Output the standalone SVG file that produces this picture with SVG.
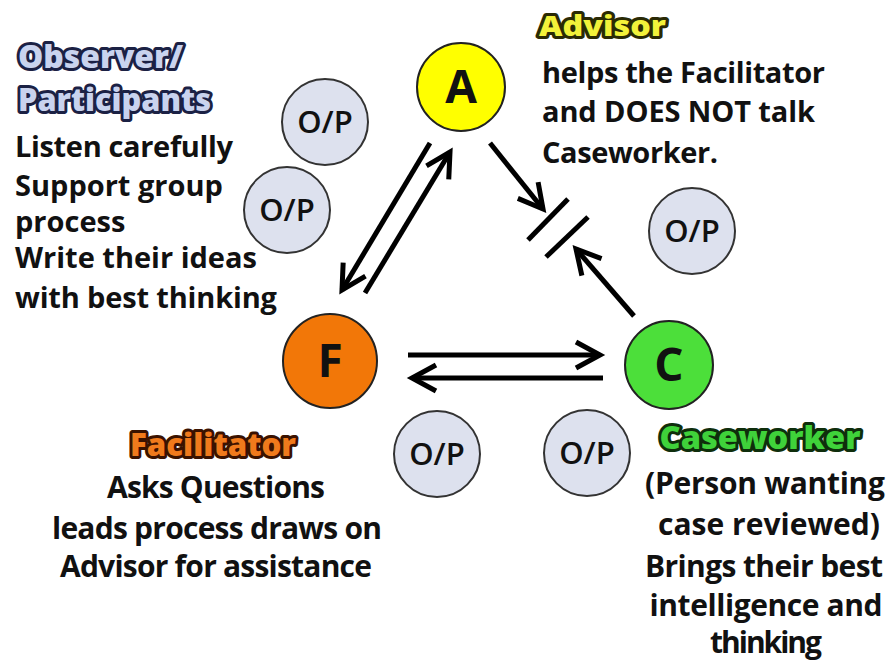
<svg xmlns="http://www.w3.org/2000/svg" width="889" height="664" viewBox="0 0 889 664">
<style>
.body{font-family:"Open Sans","Liberation Sans",sans-serif;font-weight:700;font-size:29px;fill:#111}
.big{font-size:30px}
.ttl{font-family:"Open Sans","Liberation Sans",sans-serif;font-weight:800;font-size:32px;stroke-width:6;stroke-linejoin:round;paint-order:stroke}
.op circle{fill:#dde1ee;stroke:#333;stroke-width:2}
.op text{font-family:"Open Sans","Liberation Sans",sans-serif;font-weight:600;font-size:31px;fill:#111;text-anchor:middle}
.node circle{stroke:#222;stroke-width:2}
.node text{font-family:"Open Sans","Liberation Sans",sans-serif;font-weight:700;font-size:46px;fill:#111;text-anchor:middle}
.ln{stroke:#000;stroke-width:5;fill:none}
</style>
<defs>
<marker id="ah" markerUnits="userSpaceOnUse" orient="auto" overflow="visible" refX="0" refY="0" markerWidth="30" markerHeight="30">
<path d="M-24,-13 L0,0 L-24,13" fill="none" stroke="#000" stroke-width="5" stroke-linejoin="miter"/>
</marker>
</defs>
<rect width="889" height="664" fill="#fff"/>

<g id="connectors">
<line class="ln" x1="430" y1="143" x2="342" y2="290" marker-end="url(#ah)"/>
<line class="ln" x1="365" y1="293" x2="450" y2="152" marker-end="url(#ah)"/>
<line class="ln" x1="490" y1="143" x2="543" y2="209" marker-end="url(#ah)"/>
<line class="ln" x1="634" y1="316" x2="576" y2="249" marker-end="url(#ah)"/>
<line class="ln" x1="528" y1="240" x2="568" y2="199"/>
<line class="ln" x1="546" y1="257" x2="588" y2="217"/>
<line class="ln" x1="408" y1="355" x2="600" y2="355" marker-end="url(#ah)"/>
<line class="ln" x1="603" y1="378" x2="412" y2="378" marker-end="url(#ah)"/>
</g>

<g id="node-A" class="node"><circle cx="461" cy="87" r="44" fill="#ffff00"/><text x="461" y="103">A</text></g>
<g id="node-F" class="node"><circle cx="330" cy="361" r="47" fill="#f27708"/><text x="330" y="377">F</text></g>
<g id="node-C" class="node"><circle cx="669" cy="365" r="44" fill="#4cdf3a"/><text x="669" y="381">C</text></g>

<g id="op1" class="op"><circle cx="325" cy="122" r="43"/><text x="325" y="133">O/P</text></g>
<g id="op2" class="op"><circle cx="287" cy="210" r="43"/><text x="287" y="221">O/P</text></g>
<g id="op3" class="op"><circle cx="692" cy="231" r="43"/><text x="692" y="242">O/P</text></g>
<g id="op4" class="op"><circle cx="437" cy="454" r="43"/><text x="437" y="465">O/P</text></g>
<g id="op5" class="op"><circle cx="587" cy="453" r="43"/><text x="587" y="464">O/P</text></g>

<g id="observer-label">
<text class="ttl" x="18" y="68" fill="#c9d3ee" stroke="#1b2144" textLength="165" lengthAdjust="spacingAndGlyphs">Observer/</text>
<text class="ttl" x="18" y="111" fill="#c9d3ee" stroke="#1b2144" textLength="193" lengthAdjust="spacingAndGlyphs">Participants</text>
<text class="body" x="15" y="157" textLength="218">Listen carefully</text>
<text class="body" x="15" y="196">Support group</text>
<text class="body" x="15" y="232">process</text>
<text class="body" x="15" y="268">Write their ideas</text>
<text class="body" x="15" y="308" textLength="262">with best thinking</text>
</g>

<g id="advisor-label">
<text class="ttl" x="539" y="36" fill="#f2f23a" stroke="#2a2a05" style="font-size:28px" textLength="127" lengthAdjust="spacingAndGlyphs">Advisor</text>
<text class="body" x="542" y="83" textLength="283">helps the Facilitator</text>
<text class="body" x="542" y="122" textLength="273">and DOES NOT talk</text>
<text class="body" x="542" y="163" textLength="176">Caseworker.</text>
</g>

<g id="facilitator-label" text-anchor="middle">
<text class="ttl" x="213" y="456" fill="#f07a1c" stroke="#3a1200" textLength="166" lengthAdjust="spacingAndGlyphs">Facilitator</text>
<text class="body big" x="216" y="498" textLength="218">Asks Questions</text>
<text class="body big" x="217" y="539" textLength="330">leads process draws on</text>
<text class="body big" x="216" y="577" textLength="312">Advisor for assistance</text>
</g>

<g id="caseworker-label" text-anchor="middle">
<text class="ttl" x="760" y="449" fill="#3fd23a" stroke="#0f2e0c" textLength="201" lengthAdjust="spacingAndGlyphs">Caseworker</text>
<text class="body big" x="765" y="494" textLength="240">(Person wanting</text>
<text class="body big" x="769" y="535" textLength="222">case reviewed)</text>
<text class="body big" x="764" y="577" textLength="238">Brings their best</text>
<text class="body big" x="766" y="616" textLength="233">intelligence and</text>
<text class="body big" x="766" y="653" textLength="112">thinking</text>
</g>
</svg>
